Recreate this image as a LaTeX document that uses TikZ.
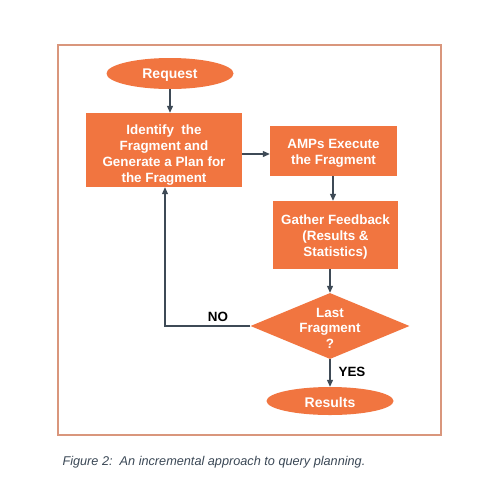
\documentclass[tikz,border=0pt]{standalone}
\usepackage{fontspec}
\setmainfont{Liberation Sans}
\usetikzlibrary{arrows.meta,shapes.geometric}
\definecolor{orangefill}{HTML}{F17540}
\definecolor{arrowcol}{HTML}{3E4A56}
\definecolor{framecol}{HTML}{D9967C}
\definecolor{captcol}{HTML}{3B4856}
\tikzset{
  txtfont/.style={font=\fontsize{13.4}{16}\selectfont\bfseries},
  shapetext/.style={text=white, txtfont, align=center, inner sep=0pt},
  box/.style={draw=none, fill=orangefill, inner sep=0pt},
  oval/.style={ellipse, draw=none, fill=orangefill, inner sep=0pt},
  dia/.style={diamond, draw=none, fill=orangefill, inner sep=0pt},
  conn/.style={draw=arrowcol, line width=1.1pt, -{Triangle[length=7pt,width=6pt]}},
  lbl/.style={font=\fontsize{13.4}{15}\selectfont\bfseries, text=black}
}
\begin{document}
\begin{tikzpicture}[x=1pt,y=-1pt]
\useasboundingbox[fill=white] (0,0) rectangle (500,493);
\draw[framecol, line width=1.2pt] (58,45) rectangle (441,435);
\node[oval, minimum width=127pt, minimum height=31pt,
  label={[shapetext, font=\fontsize{14}{16}\selectfont\bfseries, yshift=-1.5pt]center:Request}] (req) at (170,73.5) {};
\node[box, minimum width=156pt, minimum height=74pt,
  label={[shapetext, yshift=-5.5pt]center:{Identify\ \ the\\Fragment and\\Generate a Plan for\\the Fragment}}] (ident) at (164,150) {};
\node[box, minimum width=127pt, minimum height=50pt,
  label={[shapetext, yshift=-2pt]center:{AMPs Execute\\the Fragment}}] (amp) at (333.5,151) {};
\node[box, minimum width=125pt, minimum height=68pt,
  label={[shapetext, yshift=-2pt]center:{Gather Feedback\\(Results \&\\Statistics)}}] (gath) at (335.5,235) {};
\node[dia, minimum width=159pt, minimum height=66pt, aspect=2.4,
  label={[shapetext, font=\fontsize{13.4}{15.5}\selectfont\bfseries, yshift=-2pt]center:{Last\\Fragment\\?}}] (last) at (330,326) {};
\node[oval, minimum width=127pt, minimum height=28pt,
  label={[shapetext, font=\fontsize{14}{16}\selectfont\bfseries, yshift=-1pt]center:Results}] (res) at (330,401) {};
\coordinate (corner) at (165,326);
\draw[conn] (req.south) -- (req.south |- ident.north);
\draw[conn] (ident.east |- 0,154) -- (amp.west |- 0,154);
\draw[conn] (amp.south -| 333,0) -- (gath.north -| 333,0);
\draw[conn] (gath.south -| 330,0) -- (last.north);
\draw[conn] (last.south) -- (res.north);
\draw[conn] (last.west) -- (corner) -- (corner |- ident.south);
\node[lbl] (no) at (218,317) {NO};
\node[lbl] (yes) at (352,372) {YES};
\node[anchor=west, text=captcol, font=\fontsize{12.7}{15}\selectfont\itshape] (cap) at (59,462) {Figure 2:\ \ An incremental approach to query planning.};
\end{tikzpicture}
\end{document}
